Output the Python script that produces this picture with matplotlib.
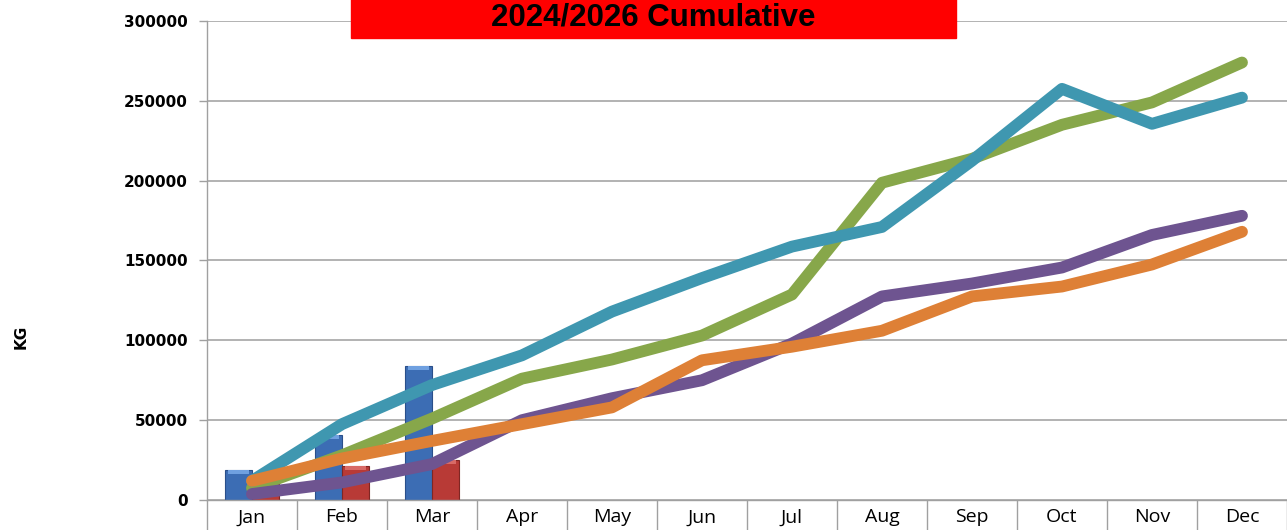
import matplotlib

matplotlib.use("Agg")
import matplotlib.pyplot as plt
import numpy as np
from matplotlib.patches import Rectangle

months = ["Jan", "Feb", "Mar", "Apr", "May", "Jun",
          "Jul", "Aug", "Sep", "Oct", "Nov", "Dec"]

# monthly bars (only first quarter reported so far)
bar_blue = [18750, 41000, 84000]
bar_red = [12000, 21000, 25000]

# cumulative lines
green = [7500, 28000, 51000, 76000, 88000, 103000,
         128700, 198700, 213700, 235000, 249000, 274000]
teal = [12000, 47500, 72000, 90600, 118000, 139000,
        158700, 171000, 212500, 257500, 235600, 252000]
purple = [3750, 11000, 22500, 50000, 63750, 75000,
          98000, 127500, 135600, 145600, 166000, 178000]
orange = [12000, 26000, 37000, 47500, 58000, 87500,
          96000, 106000, 127500, 133700, 147500, 168000]

fig = plt.figure(figsize=(12.87, 5.30), dpi=100)
ax = fig.add_axes([0.1608, 0.0566, 0.8392, 0.9038])

x = np.arange(len(months))
xb = np.arange(len(bar_blue))
ax.bar(xb - 0.15, bar_blue, width=0.3, color="#3C6DB4",
       edgecolor="#2A4F8A", linewidth=0.8, zorder=2)
ax.bar(xb + 0.15, bar_red, width=0.3, color="#B83A36",
       edgecolor="#7F2623", linewidth=0.8, zorder=2)
# lighter bevel on the bar tops
ax.bar(xb - 0.15, [2500] * len(xb), bottom=np.array(bar_blue) - 2500, width=0.24,
       color="#6FA0E0", linewidth=0, zorder=2)
ax.bar(xb + 0.15, [2500] * len(xb), bottom=np.array(bar_red) - 2500, width=0.24,
       color="#D86A66", linewidth=0, zorder=2)

lw = 8.5
for vals, col in [(green, "#87A74A"), (teal, "#3F97B0"),
                  (purple, "#6E5490"), (orange, "#DE8036")]:
    ax.plot(x, vals, color=col, linewidth=lw, solid_capstyle="round",
            solid_joinstyle="round", zorder=3)

ax.set_xlim(-0.5, 11.5)
ax.set_ylim(0, 300000)
ax.set_yticks(np.arange(0, 300001, 50000))
ax.set_yticklabels([str(v) for v in range(0, 300001, 50000)],
                   fontsize=11, fontweight="bold", family="DejaVu Sans")
ax.set_xticks(x)
ax.set_xticklabels(months, fontsize=14, family="Open Sans")
ax.set_xticks(np.arange(-0.5, 12, 1), minor=True)
ax.tick_params(axis="x", which="major", length=0, pad=6)
ax.tick_params(axis="x", which="minor", length=30, color="#A0A0A0", width=1)
ax.tick_params(axis="y", length=6, color="#A0A0A0", width=1, pad=8)

ax.grid(axis="y", color="#A6A6A6", linewidth=1.2, zorder=0)
ax.set_axisbelow(True)
for side in ["top", "right"]:
    ax.spines[side].set_visible(False)
for side in ["left", "bottom"]:
    ax.spines[side].set_color("#A0A0A0")
    ax.spines[side].set_linewidth(1)

ax.set_ylabel("KG", fontsize=11, fontweight="bold")
ax.yaxis.set_label_coords(-0.165, 0.34)

# title box
fig.patches.append(Rectangle((351 / 1287, 1 - 38 / 530), 605 / 1287, 38 / 530 + 0.01,
                             transform=fig.transFigure, color="#FF0000", zorder=5))
fig.text(653 / 1287, 1 - 26 / 530, "2024/2026 Cumulative", ha="center", va="baseline",
         fontsize=22.5, fontweight="bold", family="Liberation Sans", zorder=6)

fig.savefig("out.png", dpi=100)
